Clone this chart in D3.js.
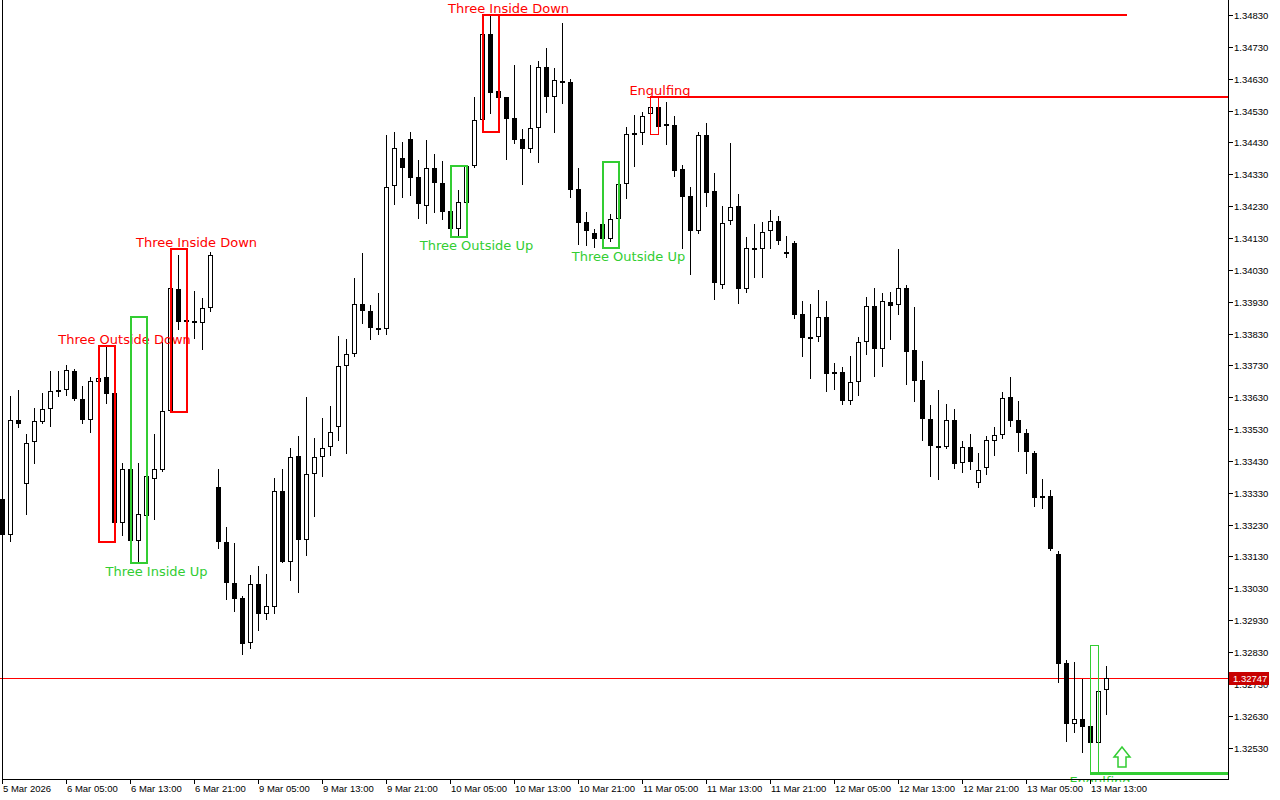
<!DOCTYPE html>
<html><head><meta charset="utf-8">
<script src="https://cdn.jsdelivr.net/npm/d3@7"></script>
<style>html,body{margin:0;padding:0;background:#fff;overflow:hidden}svg{display:block}</style>
</head><body><svg id="c" width="1280" height="800"></svg>
<script>
// ---- data (GBPUSD-like H1 bars) ----
const opens=[1.33310,1.33197,1.33560,1.33356,1.33488,1.33553,1.33592,1.33652,1.33652,1.33711,1.33623,1.33557,1.33677,1.33693,1.33642,1.33234,1.33404,1.33179,1.33258,1.33372,1.33401,1.33586,1.33969,1.33871,1.33869,1.33862,1.33909,
1.33347,1.33176,1.33047,1.32999,1.32857,1.33043,1.32949,1.32970,1.33335,1.33114,1.33445,1.33183,1.33389,1.33443,1.33475,1.33536,1.33727,1.33767,1.33922,1.33902,1.33846,1.33843,1.34292,1.34380,
1.34440,1.34320,1.34231,1.34349,1.34303,1.34215,1.34159,1.34240,1.34355,1.34499,1.34770,1.34592,1.34572,1.34506,1.34440,1.34408,1.34474,1.34668,1.34572,1.34622,1.34619,1.34283,1.34179,1.34145,
1.34174,1.34128,1.34189,1.34300,1.34459,1.34459,1.34518,1.34542,1.34481,1.34485,1.34346,1.34262,1.34153,1.34453,1.34277,1.33981,1.34183,1.34230,1.33969,1.34097,1.34094,1.34152,1.34182,1.34085,
1.34113,1.33891,1.33820,1.33818,1.33881,1.33702,1.33710,1.33619,1.33679,1.33804,1.33917,1.33782,1.33928,1.33918,1.33972,1.33777,1.33683,1.33563,1.33477,1.33475,1.33560,1.33422,1.33473,1.33360,
1.33407,1.33491,1.33510,1.33630,1.33557,1.33518,1.33454,1.33312,1.33319,1.33138,1.32794,1.32603,1.32619,1.32597,1.32543,1.32710];
const highs=[1.33323,1.33634,1.33653,1.33514,1.33596,1.33643,1.33712,1.33712,1.33731,1.33718,1.33665,1.33693,1.33694,1.33790,1.33645,1.33422,1.33454,1.33422,1.33881,1.33514,1.33804,1.34094,1.34076,1.34061,1.33963,1.33940,1.34085,
1.33404,1.33222,1.33172,1.33006,1.33073,1.33100,1.33075,1.33376,1.33405,1.33471,1.33509,1.33632,1.33502,1.33565,1.33603,1.33821,1.33813,1.34003,1.34082,1.33920,1.33957,1.34452,1.34463,1.34432,
1.34464,1.34375,1.34438,1.34393,1.34372,1.34252,1.34281,1.34357,1.34572,1.34799,1.34830,1.34683,1.34574,1.34673,1.34472,1.34673,1.34686,1.34725,1.34663,1.34804,1.34628,1.34350,1.34210,1.34159,
1.34193,1.34205,1.34369,1.34479,1.34516,1.34526,1.34573,1.34568,1.34556,1.34513,1.34359,1.34291,1.34464,1.34492,1.34333,1.34230,1.34427,1.34268,1.34134,1.34174,1.34181,1.34218,1.34198,1.34136,
1.34120,1.33932,1.33923,1.33967,1.33932,1.33736,1.33724,1.33759,1.33818,1.33945,1.33972,1.33956,1.33959,1.34094,1.33981,1.33913,1.33743,1.33604,1.33652,1.33608,1.33592,1.33492,1.33513,1.33454,
1.33508,1.33538,1.33645,1.33692,1.33618,1.33529,1.33460,1.33373,1.33339,1.33147,1.32805,1.32798,1.32745,1.32672,1.32851,1.32786];
const lows=[1.33182,1.33179,1.33536,1.33264,1.33424,1.33550,1.33540,1.33634,1.33638,1.33620,1.33550,1.33520,1.33600,1.33613,1.33174,1.33197,1.33166,1.33111,1.33244,1.33247,1.33398,1.33584,1.33843,1.33773,1.33817,1.33782,1.33901,
1.33157,1.32997,1.32960,1.32825,1.32844,1.32900,1.32933,1.32954,1.33112,1.33057,1.33019,1.33136,1.33257,1.33384,1.33449,1.33497,1.33455,1.33760,1.33862,1.33814,1.33830,1.33830,1.34237,1.34259,
1.34266,1.34192,1.34176,1.34212,1.34189,1.34132,1.34132,1.34238,1.34353,1.34464,1.34521,1.34560,1.34379,1.34427,1.34298,1.34401,1.34369,1.34526,1.34462,1.34553,1.34259,1.34111,1.34109,1.34102,
1.34097,1.34122,1.34186,1.34256,1.34357,1.34425,1.34455,1.34455,1.34424,1.34324,1.34097,1.34016,1.34146,1.34230,1.33939,1.33972,1.34175,1.33927,1.33960,1.34008,1.34008,1.34099,1.34110,1.34069,
1.33880,1.33760,1.33691,1.33807,1.33650,1.33656,1.33608,1.33610,1.33637,1.33766,1.33697,1.33729,1.33814,1.33892,1.33672,1.33619,1.33496,1.33382,1.33373,1.33471,1.33409,1.33396,1.33404,1.33349,
1.33390,1.33450,1.33501,1.33540,1.33462,1.33391,1.33289,1.33281,1.33149,1.32737,1.32550,1.32580,1.32515,1.32449,1.32498,1.32634];
const closes=[1.33197,1.33560,1.33547,1.33485,1.33554,1.33592,1.33648,1.33649,1.33714,1.33625,1.33559,1.33680,1.33689,1.33641,1.33234,1.33404,1.33179,1.33262,1.33382,1.33404,1.33586,1.33972,1.33865,1.33866,1.33862,1.33909,1.34076,
1.33174,1.33048,1.32997,1.32854,1.33043,1.32949,1.32974,1.33335,1.33114,1.33441,1.33183,1.33389,1.33441,1.33470,1.33522,1.33727,1.33767,1.33922,1.33902,1.33846,1.33843,1.34290,1.34412,1.34349,
1.34319,1.34236,1.34349,1.34303,1.34210,1.34159,1.34242,1.34355,1.34499,1.34770,1.34586,1.34570,1.34503,1.34437,1.34410,1.34474,1.34666,1.34573,1.34625,1.34619,1.34281,1.34178,1.34153,1.34126,
1.34128,1.34189,1.34300,1.34455,1.34455,1.34514,1.34540,1.34479,1.34489,1.34341,1.34259,1.34153,1.34453,1.34272,1.33988,1.34176,1.34228,1.33971,1.34097,1.34098,1.34148,1.34182,1.34121,1.34084,
1.33888,1.33817,1.33817,1.33881,1.33702,1.33710,1.33619,1.33679,1.33804,1.33917,1.33782,1.33931,1.33917,1.33972,1.33773,1.33682,1.33562,1.33478,1.33476,1.33557,1.33419,1.33473,1.33427,1.33401,
1.33495,1.33510,1.33626,1.33556,1.33517,1.33459,1.33312,1.33319,1.33152,1.32793,1.32603,1.32619,1.32595,1.32543,1.32708,1.32747];

const timeTickBars=[0,8,16,24,32,40,48,56,64,72,80,88,96,104,112,120,128,136];
const timeTickLabels=["5 Mar 2026","6 Mar 05:00","6 Mar 13:00","6 Mar 21:00","9 Mar 05:00","9 Mar 13:00","9 Mar 21:00","10 Mar 05:00","10 Mar 13:00","10 Mar 21:00","11 Mar 05:00","11 Mar 13:00","11 Mar 21:00","12 Mar 05:00","12 Mar 13:00","12 Mar 21:00","13 Mar 05:00","13 Mar 13:00"];
const priceTicks=[1.34830,1.34730,1.34630,1.34530,1.34430,1.34330,1.34230,1.34130,1.34030,1.33930,1.33830,1.33730,1.33630,1.33530,1.33430,1.33330,1.33230,1.33130,1.33030,1.32930,1.32830,1.32730,1.32630,1.32530];
const lastPrice=1.32747;

const patternNames=["Three Outside Down","Three Inside Up","Three Inside Down","Three Outside Up","Three Inside Down","Three Outside Up","Engulfing","Engulfing"];
const patternStart=[12,16,21,56,60,75,81,136];
const patternEnd=[14,18,23,58,62,77,82,137];
const patternBullish=[false,true,false,true,false,true,false,true];

// signal levels drawn from a pattern extreme
const levelPrices=[1.34830,1.34573,1.32449];
const levelStartBar=[60,81,136];
const levelEndBar=[140.6,null,null];
const levelBullish=[false,false,true];

const arrowBars=[140];
const arrowPrices=[1.32531];

// ---- layout ----
const W=1280,H=800, plotR=1228, plotB=779;
const RED="#ff0000", GREEN="#32cd32";
const svg=d3.select("#c");
const x=d3.scaleLinear().domain([-0.3,153.2]).range([0,plotR]);
const y=d3.scaleLinear().domain([1.324313,1.348771]).range([plotB,0]);
const cx=i=>Math.floor(x(i))+0.5;
const py=v=>Math.round(y(v));

svg.append("rect").attr("width",W).attr("height",H).attr("fill","#fff");

const defs=svg.append("defs");
defs.append("clipPath").attr("id","plotclip").append("rect").attr("x",0).attr("y",0).attr("width",plotR).attr("height",plotB+3);

const plot=svg.append("g").attr("clip-path","url(#plotclip)");

// current price line
plot.append("line").attr("x1",0).attr("x2",plotR)
  .attr("y1",py(lastPrice)+0.5).attr("y2",py(lastPrice)+0.5)
  .attr("stroke",RED).attr("stroke-width",1);

// candles
const bars=d3.range(opens.length);
const cg=plot.append("g").attr("shape-rendering","crispEdges");
cg.selectAll("line.w").data(bars).join("line")
  .attr("x1",cx).attr("x2",cx)
  .attr("y1",i=>py(highs[i])).attr("y2",i=>py(lows[i])+1)
  .attr("stroke","#000").attr("stroke-width",1);
cg.selectAll("rect.b").data(bars).join("rect")
  .attr("x",i=>cx(i)-2).attr("width",4)
  .attr("y",i=>py(Math.max(opens[i],closes[i]))+0.5)
  .attr("height",i=>Math.max(1,py(Math.min(opens[i],closes[i]))-py(Math.max(opens[i],closes[i]))-1))
  .attr("fill",i=>closes[i]>=opens[i]?"#fff":"#000")
  .attr("stroke","#000").attr("stroke-width",1);

// levels
const lg=plot.append("g").attr("shape-rendering","crispEdges");
levelPrices.forEach((p,k)=>{
  lg.append("line")
    .attr("x1",cx(levelStartBar[k])-0.5)
    .attr("x2",levelEndBar[k]==null?plotR:x(levelEndBar[k]))
    .attr("y1",py(p)).attr("y2",py(p))
    .attr("stroke",levelBullish[k]?GREEN:RED).attr("stroke-width",levelBullish[k]?3:2);
});

// pattern boxes + labels
const pg=plot.append("g");
patternNames.forEach((name,k)=>{
  const s=patternStart[k], e=patternEnd[k];
  const hi=d3.max(highs.slice(s,e+1)), lo=d3.min(lows.slice(s,e+1));
  const col=patternBullish[k]?GREEN:RED;
  const sw=(e-s>=2)?2:1;
  const x0=cx(s)+ (sw===2?0.5:0), x1=cx(e)+(sw===2?0.5:0);
  pg.append("rect").attr("x",x0).attr("y",py(hi)+(sw===2?0:0.5))
    .attr("width",x1-x0).attr("height",py(lo)-py(hi))
    .attr("fill","none").attr("stroke",col).attr("stroke-width",sw)
    .attr("shape-rendering","crispEdges");
  const lx=cx(s)+(e-s>=2?26:9.5);
  const ly=patternBullish[k]?py(lo)+12.5:py(hi)-2.5;
  pg.append("text").attr("x",lx).attr("y",ly).attr("text-anchor","middle")
    .attr("font-family","'DejaVu Sans',Verdana,sans-serif").attr("font-size",13)
    .attr("fill",col).text(name);
});

// arrows
arrowBars.forEach((b,k)=>{
  const ax=cx(b)-0.5, ay=py(arrowPrices[k]);
  const path=`M${ax},${ay} L${ax+8},${ay+10} L${ax+4},${ay+10} L${ax+4},${ay+20} L${ax-4},${ay+20} L${ax-4},${ay+10} L${ax-8},${ay+10} Z`;
  plot.append("path").attr("d",path).attr("fill","#fff").attr("stroke",GREEN).attr("stroke-width",1.5);
});

// frame / axes
const ag=svg.append("g").attr("shape-rendering","crispEdges");
ag.append("line").attr("x1",plotR+0.5).attr("x2",plotR+0.5).attr("y1",0).attr("y2",plotB+1).attr("stroke","#000");
ag.append("line").attr("x1",2).attr("x2",plotR+1).attr("y1",plotB+0.5).attr("y2",plotB+0.5).attr("stroke","#000");
ag.append("line").attr("x1",2.5).attr("x2",2.5).attr("y1",0).attr("y2",plotB+1).attr("stroke","#000");

const AXF="'Liberation Sans',Arial,sans-serif";
// price ticks
priceTicks.forEach(v=>{
  const yy=py(v)+0.5;
  ag.append("line").attr("x1",plotR).attr("x2",plotR+5).attr("y1",yy).attr("y2",yy).attr("stroke","#000");
  svg.append("text").attr("x",plotR+6).attr("y",yy+3.5)
    .attr("font-family",AXF).attr("font-size",9.5).attr("fill","#000").text(v.toFixed(5));
});
// time ticks
timeTickBars.forEach((b,k)=>{
  const xx=cx(b);
  ag.append("line").attr("x1",xx).attr("x2",xx).attr("y1",plotB).attr("y2",plotB+5).attr("stroke","#000");
  svg.append("text").attr("x",xx+0.5).attr("y",plotB+13)
    .attr("font-family",AXF).attr("font-size",9.5).attr("fill","#000").text(timeTickLabels[k]);
});
// last price tag
const ly=py(lastPrice);
svg.append("rect").attr("x",plotR+1).attr("y",ly-6).attr("width",40).attr("height",13).attr("fill","#c80000");
svg.append("text").attr("x",plotR+5).attr("y",ly+4)
  .attr("font-family",AXF).attr("font-size",9.5).attr("fill","#fff").text(lastPrice.toFixed(5));
</script></body></html>
